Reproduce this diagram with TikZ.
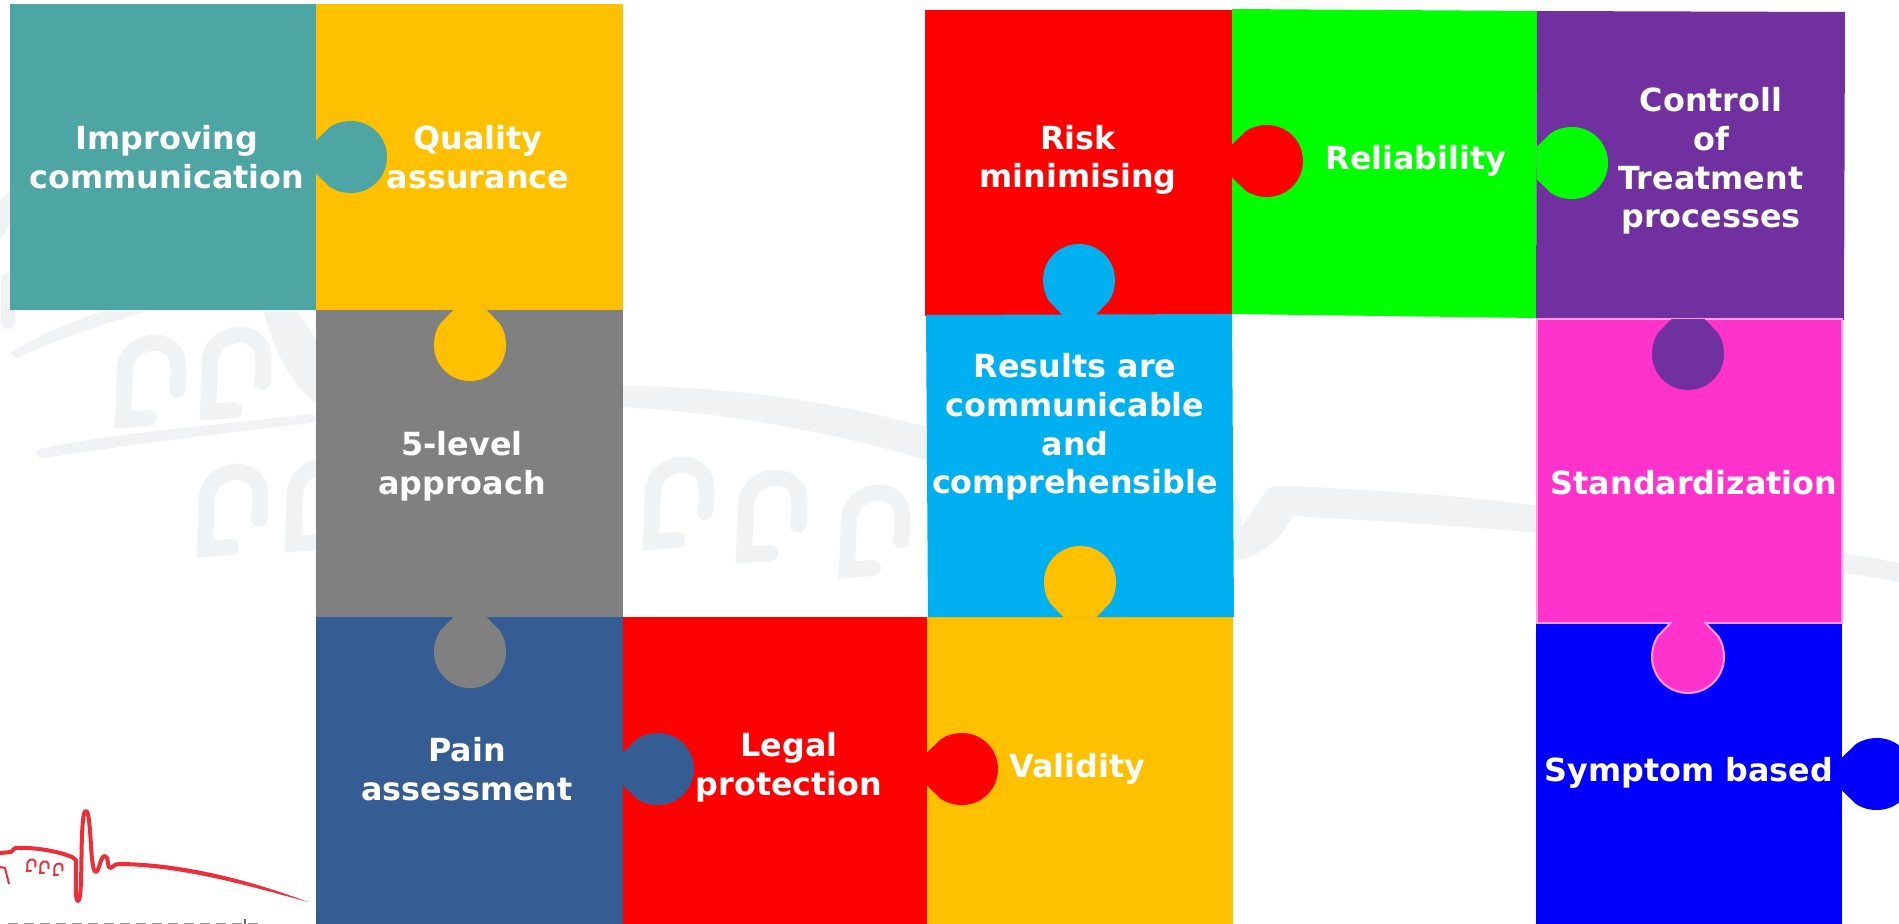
\documentclass[tikz,border=0pt]{standalone}
\usepackage{fontspec}
\setmainfont{DejaVu Sans}
\usetikzlibrary{
  calc,
  positioning,
}
\definecolor{wmark}{HTML}{F1F2F4}
\definecolor{logored}{HTML}{EC2E38}
\definecolor{pteal}{HTML}{4DA6A3}
\definecolor{pyellow}{HTML}{FFC000}
\definecolor{pgray}{HTML}{808080}
\definecolor{pnavy}{HTML}{355D93}
\definecolor{pred}{HTML}{FF0000}
\definecolor{pcyan}{HTML}{00B0F0}
\definecolor{pgreen}{HTML}{00FF00}
\definecolor{ppurple}{HTML}{7030A0}
\definecolor{pmagenta}{HTML}{FF33CC}
\definecolor{pblue}{HTML}{0000FF}
\definecolor{ppale}{HTML}{FF99EE}
\tikzset{
  label text/.style={text=white, font=\bfseries\fontsize{9.05}{11}\selectfont, align=center, inner sep=0pt},
  tab/.pic={
    \path[pic actions] (0,-16.5) -- (14,-30)
      .. controls (20,-34) and (27,-36) .. (35,-36)
      .. controls (55,-36) and (71,-20) .. (71,0)
      .. controls (71,20) and (55,36) .. (35,36)
      .. controls (27,36) and (20,34) .. (14,30)
      -- (0,16.5);
  },
  arch/.pic={
    \path[pic actions, line cap=round, line join=miter] (34,85) -- (8,87)
      -- (10,34)
      .. controls (14,8) and (52,0) .. (62,24)
      .. controls (64,36) and (64,48) .. (62,57);
  },
}
\begin{document}
\begin{tikzpicture}[x=0.01cm,y=-0.01cm]
  \clip (0,0) rectangle (1899,924);
  % watermark
  \foreach \x/\y in {115/333,200/325,197/462,285/457,643/455,736/468,839/483}
  {
    \pic[draw=wmark, line width=0.16cm] at (\x,\y) {arch};
  }
  \draw[wmark, line width=0.14cm, line cap=round] (8,280) -- (8,322);
  \fill[wmark] (0,200) -- (10,190) -- (10,225) -- (0,240) -- cycle;
  \fill[wmark] (10,353) .. controls (40,335) and (75,320) .. (107,310) -- (150,310)
    .. controls (100,325) and (55,340) .. (17,358) -- cycle;
  \fill[wmark] (263,310) .. controls (275,350) and (290,385) .. (316,403) -- (316,340) -- (297,310) -- cycle;
  \fill[wmark] (39,449) .. controls (120,432) and (220,425) .. (312,414)
    .. controls (317,416) and (317,422) .. (312,423)
    .. controls (220,433) and (130,445) .. (44,458)
    .. controls (36,459) and (35,451) .. (39,449) -- cycle;
  \fill[wmark] (620,386) .. controls (720,386) and (830,400) .. (930,428) -- (930,461)
    .. controls (830,431) and (720,412) .. (620,407) -- cycle;
  \fill[wmark] (1233,467) -- (1242,527) -- (1267,490) .. controls (1272,486) and (1280,486) .. (1289,486)
    .. controls (1400,491) and (1470,497) .. (1540,506) -- (1540,533)
    .. controls (1470,527) and (1400,522) .. (1293,516)
    .. controls (1285,530) and (1270,556) .. (1233,560) -- cycle;
  \fill[wmark] (1840,552) -- (1899,563) -- (1899,582) -- (1840,572) -- cycle;
  % logo
  \draw[logored, line width=0.04cm, line join=round] (0,853) -- (11,852) -- (15,848)
    .. controls (30,847) and (55,850) .. (72,857) -- (76,860)
    .. controls (76,885) and (75,901) .. (78,901)
    .. controls (82,901) and (81,860) .. (82,835)
    .. controls (83,815) and (84,811) .. (86,811)
    .. controls (89,811) and (90,830) .. (91,845)
    .. controls (92,865) and (94,873) .. (96,872)
    .. controls (100,870) and (100,856) .. (105,856)
    .. controls (109,856) and (107,868) .. (110,868)
    .. controls (113,868) and (114,864) .. (118,864);
  \fill[logored] (117,862) .. controls (180,862) and (250,880) .. (308,902)
    .. controls (250,886) and (180,866) .. (117,866) -- cycle;
  \foreach \x in {26,39,53}
  {
    \pic[draw=logored, line width=0.02cm, scale=0.15] at (\x,{858+(\x-26)*0.15}) {arch};
  }
  \draw[logored, line width=0.02cm] (0,867) -- (5,868) -- (9,884);
  \draw[black!40, line width=0.012cm, dash pattern=on 0.1cm off 0.06cm] (8,923.5) -- (262,923.5);
  \draw[black!60, line width=0.015cm] (245,919) -- (245,924);
  % pieces
  \fill[pteal] (10,4) rectangle (316,310);
  \fill[pyellow] (316,4) rectangle (623,310);
  \fill[pgray] (316,310) rectangle (623,617);
  \fill[pnavy] (316,617) rectangle (623,924);
  \fill[pred] (623,617) rectangle (927,924);
  \fill[pyellow] (927,617) rectangle (1233,924);
  \fill[pred] (925,10) -- (1232,10) -- (1232,315) -- (925,316) -- cycle;
  \fill[pcyan] (926,315) -- (1232,314) -- (1234,617) -- (928,617) -- cycle;
  \fill[pgreen] (1232,9) -- (1537,11) -- (1536,318) -- (1232,314) -- cycle;
  \fill[ppurple] (1537,11) -- (1845,12) -- (1844,320) -- (1536,318) -- cycle;
  \fill[pblue] (1536,623) rectangle (1842,924);
  \draw[ppale, fill=pmagenta, line width=0.02cm] (1537,319) rectangle (1842,623);
  % tabs
  \foreach \x/\y/\a/\c in {316/157/0/pteal, 470/310/-90/pyellow, 470/617/-90/pgray,
    623/769/0/pnavy, 927/769/0/pred, 1079/315/90/pcyan, 1080/617/90/pyellow,
    1232/161/0/pred, 1537/163/0/pgreen, 1688/319/-90/ppurple, 1842/774/0/pblue}
  {
    \pic[fill=\c, rotate=\a] at (\x,\y) {tab};
  }
  \pic[fill=pmagenta, draw=ppale, line width=0.02cm, rotate=-90] at (1688,622) {tab};
  % labels
  \node[label text] (improving) at (167,157) {Improving\\communication};
  \node[label text] (quality) at (478,157) {Quality\\assurance};
  \node[label text] (level) at (462,466) {5-level\\approach};
  \node[label text] (pain) at (467,769) {Pain\\assessment};
  \node[label text] (legal) at (789,767) {Legal\\protection};
  \node[label text] (validity) at (1077,769) {Validity};
  \node[label text] (risk) at (1078,160) {Risk\\minimising};
  \node[label text] (reliability) at (1416,161) {Reliability};
  \node[label text] (control) at (1711,161) {Controll\\of\\Treatment\\processes};
  \node[label text] (results) at (1075,427) {Results are\\communicable\\and\\comprehensible};
  \node[label text] (standard) at (1694,483) {Standardization};
  \node[label text] (symptom) at (1689,773) {Symptom based};
\end{tikzpicture}
\end{document}
